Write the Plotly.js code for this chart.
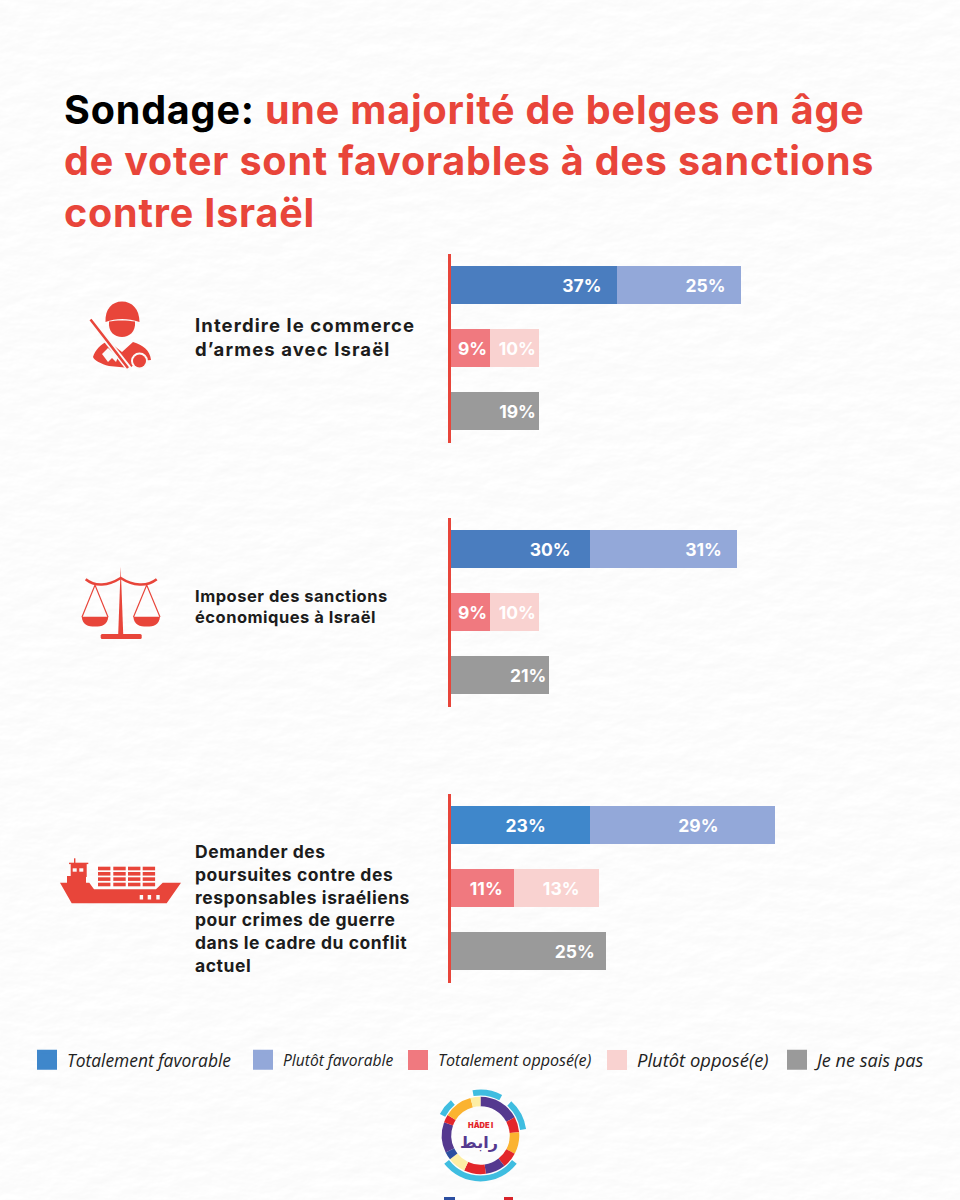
<!DOCTYPE html>
<html><head><meta charset="utf-8">
<script src="https://cdn.plot.ly/plotly-3.0.1.min.js"></script>
<style>html,body{margin:0;padding:0;background:#f9f9f8}#chart{width:960px;height:1200px}</style>
</head><body><div id="chart"></div>
<script>
// Data. Bars lengths are as drawn (common scale), labels as printed.
const questions = [
  ["Interdire le commerce", "d’armes avec Israël"],
  ["Imposer des sanctions", "économiques à Israël"],
  ["Demander des", "poursuites contre des", "responsables israéliens", "pour crimes de guerre", "dans le cadre du conflit", "actuel"]
];
const rows = ["Favorable", "Opposé", "NSP"];
const seriesNames = ["Totalement favorable", "Plutôt favorable", "Totalement opposé(e)", "Plutôt opposé(e)", "Je ne sais pas"];
const seriesRow = [0, 0, 1, 1, 2];

const totalementFavorable = [35.3, 29.6, 29.6];
const plutotFavorable     = [26.4, 31.3, 39.4];
const totalementOppose    = [8.3, 8.3, 13.4];
const plutotOppose        = [10.4, 10.4, 18.1];
const neSaitPas           = [18.7, 20.9, 33.0];

const labelsTotalementFavorable = ["37%", "30%", "23%"];
const labelsPlutotFavorable     = ["25%", "31%", "29%"];
const labelsTotalementOppose    = ["9%", "9%", "11%"];
const labelsPlutotOppose        = ["10%", "10%", "13%"];
const labelsNeSaitPas           = ["19%", "21%", "25%"];

const titleLines = ["<span style='color:#000000'>Sondage:</span> une majorité de belges en âge", "de voter sont favorables à des sanctions", "contre Israël"];

const W = 960, H = 1200;
const FONT = "Inter, 'Open Sans', sans-serif";
const RED = "#e8453a";
const seriesColors = ["#4a7dbf", "#93a8d9", "#f0797f", "#f9d2d0", "#9a9a9a"];
const legendColors = ["#3f87cb", "#93a8d9", "#f0797f", "#f9d2d0", "#9a9a9a"];
const blueByGroup = ["#4a7dbf", "#4a7dbf", "#3f87cb"];
const values = [totalementFavorable, plutotFavorable, totalementOppose, plutotOppose, neSaitPas];
const labels = [labelsTotalementFavorable, labelsPlutotFavorable, labelsTotalementOppose, labelsPlutotOppose, labelsNeSaitPas];
// label inset from bar end, in spaces
const insets = [[3,4,10],[3,3,13],[0,0,2],[0,0,4],[0,0,2]];

const groupTops = [253.5, 517.5, 793.5], groupH = 189;
const pxX = x => x / W, pxY = y => 1 - y / H;
const spaced = (s, ls) => `<span style="letter-spacing:${ls}px">${s}</span>`;

const traces = [];
groupTops.forEach((t, g) => {
  const ya = g === 0 ? "y" : "y" + (g + 1);
  seriesNames.forEach((name, s) => {
    traces.push({
      type: "bar", orientation: "h", xaxis: "x", yaxis: ya,
      y: [rows[seriesRow[s]]], x: [values[s][g]], name,
      width: 0.6, showlegend: false, hoverinfo: "name+text",
      marker: {color: s === 0 ? blueByGroup[g] : seriesColors[s], line: {width: 0}},
      text: [labels[s][g] + "\u00A0".repeat(insets[s][g])],
      textposition: "inside", insidetextanchor: "end", textangle: 0, constraintext: "none",
      insidetextfont: {family: FONT, size: 17.5, color: "#ffffff", weight: 700}
    });
  });
});
// legend keys
seriesNames.forEach((name, s) => {
  traces.push({
    type: "scatter", mode: "markers", x: [null], y: [null], xaxis: "x", yaxis: "y", name,
    legend: s === 0 ? "legend" : "legend" + (s + 1), showlegend: true, hoverinfo: "skip",
    marker: {symbol: "square", size: 16, color: legendColors[s], line: {width: 4, color: legendColors[s]}}
  });
});

const legendX = [27, 243, 398, 597, 777];
const legendSize = [17.4, 15.6, 16.1, 18.4, 18.1];
const yAxis = t => ({
  domain: [pxY(t + groupH), pxY(t)], anchor: "x", type: "category",
  categoryorder: "array", categoryarray: rows,
  range: [2.5, -0.5], showticklabels: false, ticks: "", showgrid: false, zeroline: false,
  showline: true, linecolor: RED, linewidth: 2.5
});

const layout = {
  width: W, height: H, margin: {l: 0, r: 0, t: 0, b: 0},
  paper_bgcolor: "#fafaf9", plot_bgcolor: "rgba(0,0,0,0)",
  barmode: "stack", bargap: 0.4,
  font: {family: FONT},
  title: {
    text: titleLines.map(l => spaced(l, 0.82)).join("<br>"),
    x: pxX(64), xanchor: "left", xref: "paper", y: pxY(124), yanchor: "top", yref: "paper",
    font: {family: FONT, size: 39.5, color: "#e8453a", weight: 700}, pad: {t: 0, l: 0}
  },
  xaxis: {domain: [pxX(451), pxX(803.5)], range: [0, 75], visible: false, fixedrange: true, anchor: "y"},
  yaxis: yAxis(groupTops[0]),
  yaxis2: yAxis(groupTops[1]),
  yaxis3: yAxis(groupTops[2]),
  annotations: [],
  images: []
};
seriesNames.forEach((n, s) => {
  layout[s === 0 ? "legend" : "legend" + (s + 1)] = {
    x: pxX(legendX[s]), y: pxY(1060), xanchor: "left", yanchor: "middle",
    bgcolor: "rgba(0,0,0,0)", borderwidth: 0, itemclick: false, itemdoubleclick: false,
    font: {family: "'Open Sans', sans-serif", size: legendSize[s], color: "#222222", style: "italic"}
  };
});

// question labels
[[193, 337, 18.5, 1.1], [193, 606, 16.5, 0.5], [193, 909, 17.5, 0.55]].forEach((p, i) => {
  layout.annotations.push({
    xref: "paper", yref: "paper", x: pxX(p[0]), y: pxY(p[1]), xanchor: "left", yanchor: "middle",
    align: "left", showarrow: false, text: questions[i].map(l => spaced(l, p[3])).join("<br>"),
    font: {family: FONT, size: p[2], color: "#1c1c1c", weight: 700}
  });
});
// logo text
layout.annotations.push(
  {xref:"paper",yref:"paper",x:pxX(479),y:pxY(1142),xanchor:"center",yanchor:"middle",showarrow:false,text:"رابط",
   font:{family:"DejaVu Sans",size:16,color:"#55398f",weight:700},borderpad:0},
  {xref:"paper",yref:"paper",x:pxX(480),y:pxY(1124.5),xanchor:"center",yanchor:"middle",showarrow:false,text:"HÂDE I",
   font:{family:FONT,size:7.5,color:"#e3262b",weight:900},borderpad:0}
);

// paper texture
const paperSvg = `<svg xmlns="http://www.w3.org/2000/svg" width="960" height="1200" viewBox="0 0 960 1200">
<filter id="p" x="0" y="0" width="100%" height="100%"><feTurbulence type="fractalNoise" baseFrequency="0.03 0.06" numOctaves="4" seed="7" result="n"/>
<feDiffuseLighting in="n" surfaceScale="0.3" diffuseConstant="1.13" lighting-color="#ffffff"><feDistantLight azimuth="60" elevation="60"/></feDiffuseLighting></filter>
<rect width="960" height="1200" filter="url(#p)"/></svg>`;

// icons, logo ring
function arc(cx, cy, r, a0, a1) {
  const p = a => [cx + r * Math.sin(a * Math.PI / 180), cy - r * Math.cos(a * Math.PI / 180)];
  const [x0, y0] = p(a0), [x1, y1] = p(a1);
  return `M${x0.toFixed(2)} ${y0.toFixed(2)}A${r} ${r} 0 ${a1 - a0 > 180 ? 1 : 0} 1 ${x1.toFixed(2)} ${y1.toFixed(2)}`;
}
const ringParts = [[0,62,"#55398f"],[62,85,"#e3262b"],[85,118,"#fbb330"],[118,142,"#e3262b"],[142,172,"#55398f"],[172,205,"#e3262b"],[205,232,"#fdeea5"],[232,244,"#2b4ea0"],[244,290,"#55398f"],[290,302,"#e3262b"],[302,345,"#fbb330"],[345,360,"#fdeea5"]];
const ringOuter = [[-10,28],[42,82],[128,232],[-62,-40]];
const ring = ringParts.map(a => `<path d="${arc(480.5,1135.5,34,a[0],a[1])}" stroke="${a[2]}" stroke-width="9.5" fill="none"/>`).join("")
 + ringOuter.map(a => `<path d="${arc(480.5,1135.5,43,a[0],a[1])}" stroke="#3fbde0" stroke-width="6" fill="none"/>`).join("");
let containers = "";
[98, 113.3, 128, 142.7].forEach(x => [866.7, 872, 877.3, 882.7].forEach(y => { containers += `<rect x="${x}" y="${y}" width="12.4" height="3.6"/>`; }));
const iconsSvg = `<svg xmlns="http://www.w3.org/2000/svg" width="960" height="1200" viewBox="0 0 960 1200">
<g fill="${RED}">
<path d="M105.5 322C105 309 112 301.5 122 301.5C132 301.5 139.5 309 139.5 322C128 318 116 318 105.5 322Z"/>
<path d="M109 321.5C115 320 128 320 135 321.5C136 332 129 337 122 337C114.5 337 108 332 109 321.5Z"/>
<path d="M108 341L122 352L133 342C143 345 150 350 151 360L139 361L130 368L109 366C101 364 94 360 93 357C95 350 101 344 108 341Z"/>
</g>
<path d="M100 332L130 370" stroke="#fafaf9" stroke-width="6" fill="none"/>
<path d="M90.500 319.500L108 342L128 368" stroke="${RED}" stroke-width="2.500" fill="none"/>
<path d="M108 348L118 357L116 362L112 358L108 362L102 354Z" fill="#fafaf9"/>
<circle cx="139.500" cy="361" r="8.500" fill="#fafaf9"/><circle cx="139.500" cy="361" r="6.500" fill="${RED}"/>
<g fill="${RED}">
<path d="M120.700 566.700L123.200 634H118.200Z"/>
<rect x="100.700" y="634" width="41" height="5" rx="1.500"/>
<path d="M81.700 616.700H108.300C107.500 625 102 626.500 95 626.500C88 626.500 82.500 625 81.700 616.700Z"/>
<path d="M133.300 616.700H160C159.200 625 153.700 626.500 146.700 626.500C139.700 626.500 134.100 625 133.300 616.700Z"/>
</g>
<g stroke="${RED}" fill="none">
<path d="M85.700 579.300C95 587 108 586 120.700 578C133 586 147 587 156.700 579.300" stroke-width="2.600"/>
<path d="M82 617L95 585L108 617M133.500 617L146.700 585L160 617" stroke-width="1.200"/>
</g>
<g fill="${RED}">
<path d="M60 882.700H89.300L94 889.300H156L162.700 882.700H181L166.700 903.300H71.700Z"/>
<rect x="67" y="876" width="19" height="8"/><rect x="70.700" y="864" width="16" height="13"/><rect x="69" y="862.700" width="19.300" height="1.400"/><rect x="74" y="858.300" width="1.400" height="5"/>
${containers}
</g>
<g fill="#fafaf9"><rect x="72.700" y="868.300" width="4" height="3.400"/><rect x="79.300" y="868.300" width="4" height="3.400"/>
<rect x="139.700" y="895" width="3.400" height="4.500"/><rect x="147.700" y="895" width="3.400" height="4.500"/><rect x="156.300" y="895" width="3.400" height="4.500"/></g>
${ring}
<rect x="444" y="1197" width="11" height="3" fill="#2b4ea0"/><rect x="504" y="1197" width="9" height="3" fill="#d8232a"/>
</svg>`;
const uri = s => "data:image/svg+xml;charset=utf-8," + encodeURIComponent(s);
const fullImage = (src, lyr) => ({source: uri(src), xref: "paper", yref: "paper", x: 0, y: 1, sizex: 1, sizey: 1, xanchor: "left", yanchor: "top", sizing: "stretch", layer: lyr});
layout.images = [fullImage(paperSvg, "below"), fullImage(iconsSvg, "above")];

Plotly.newPlot("chart", traces, layout, {displayModeBar: false});
</script></body></html>
